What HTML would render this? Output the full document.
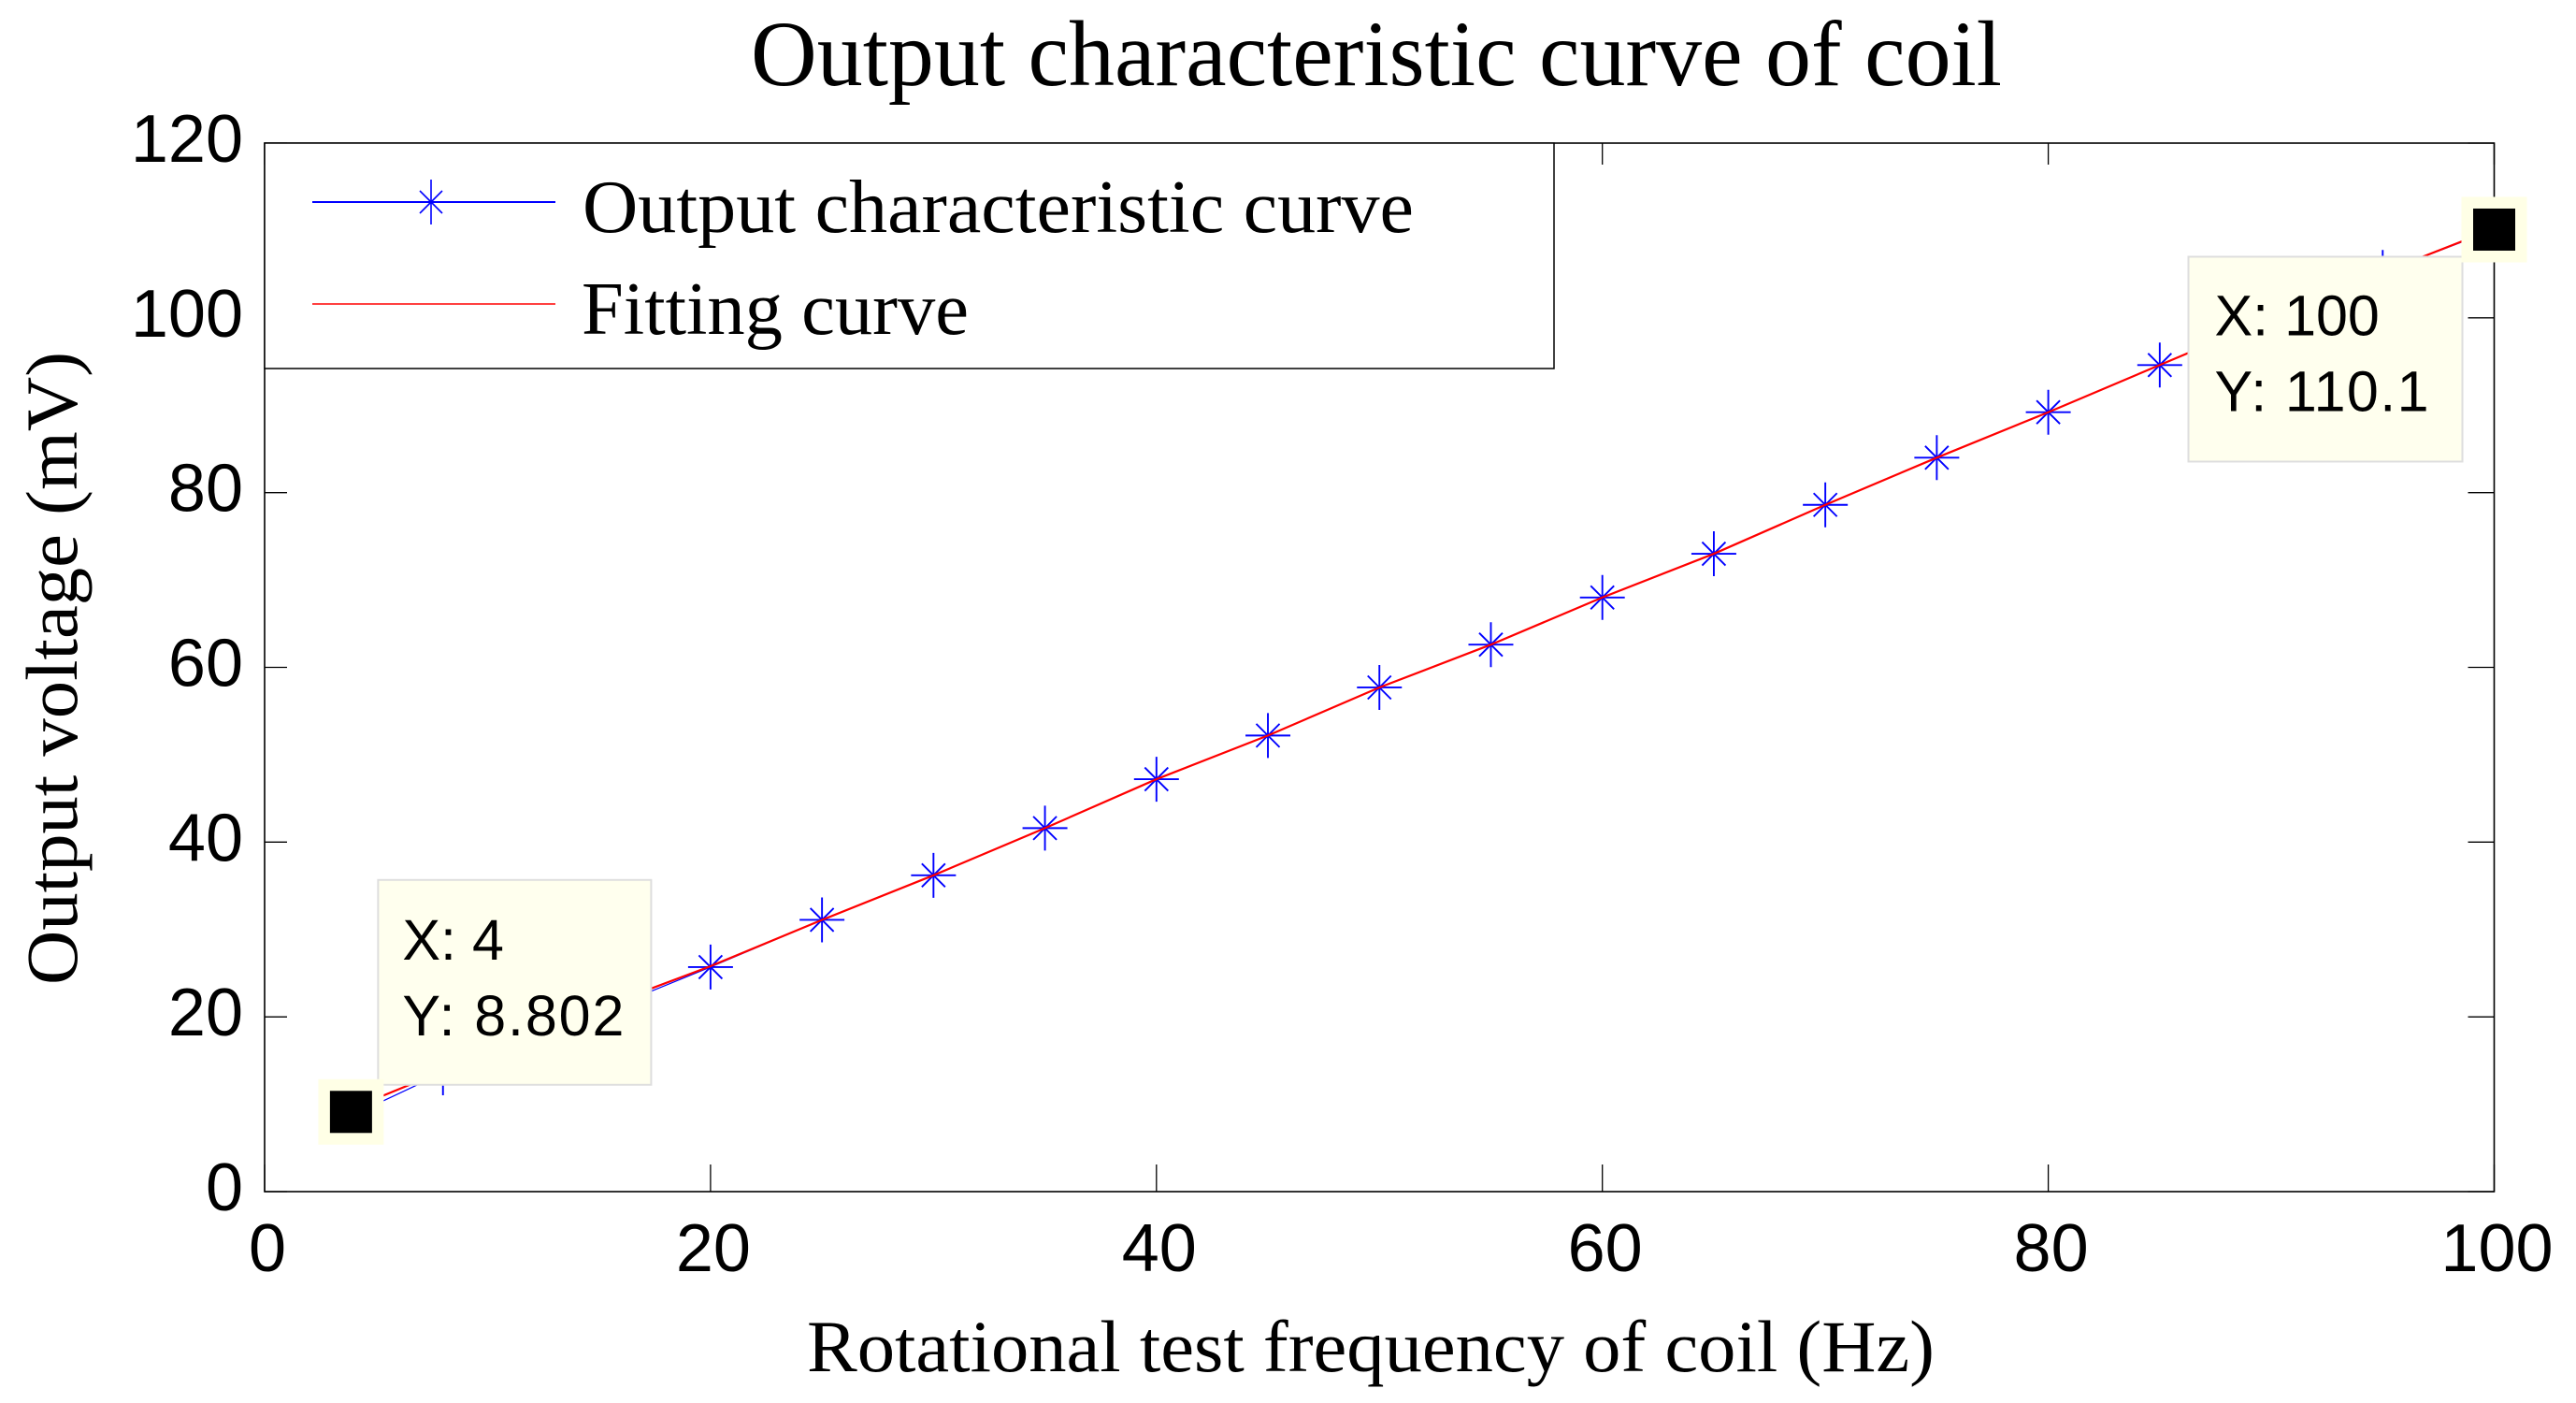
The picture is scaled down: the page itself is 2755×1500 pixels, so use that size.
<!DOCTYPE html>
<html lang="en">
<head>
<meta charset="utf-8">
<title>Output characteristic curve of coil</title>
<style>
html,body{margin:0;padding:0;background:#fff;width:2755px;height:1500px;overflow:hidden}
svg{display:block}
.sans{font-family:"Liberation Sans",Arial,sans-serif;fill:#000}
.serif{font-family:"Liberation Serif","Times New Roman",serif;fill:#000}
</style>
</head>
<body>
<svg id="chart" xmlns="http://www.w3.org/2000/svg" width="2755" height="1500" viewBox="0 0 2755 1500">
  <rect x="0" y="0" width="2755" height="1500" fill="#fff"/>
  <text class="serif" x="803" y="91" font-size="100" textLength="1338" lengthAdjust="spacingAndGlyphs">Output characteristic curve of coil</text>
  <text class="serif" x="863" y="1466" font-size="78" textLength="1206" lengthAdjust="spacingAndGlyphs">Rotational test frequency of coil (Hz)</text>
  <text class="serif" transform="translate(82 1053) rotate(-90)" font-size="78" textLength="677" lengthAdjust="spacingAndGlyphs">Output voltage (mV)</text>
  <g id="axes"></g>
  <g id="series"></g>
  <g>
    <rect x="283" y="153" width="1379" height="241" fill="#fff" stroke="#000" stroke-width="1.5"/>
    <line x1="334" y1="216" x2="594" y2="216" stroke="#0000ff" stroke-width="2"/>
    <g stroke="#0000ff" stroke-width="1.6">
      <line x1="461" y1="192" x2="461" y2="240"/>
      <line x1="449" y1="204" x2="473" y2="228"/>
      <line x1="449" y1="228" x2="473" y2="204"/>
    </g>
    <text class="serif" x="623" y="248" font-size="80" textLength="889" lengthAdjust="spacingAndGlyphs">Output characteristic curve</text>
    <line x1="334" y1="325" x2="594" y2="325" stroke="#ff0000" stroke-width="1.4"/>
    <text class="serif" x="622" y="357" font-size="80" textLength="414" lengthAdjust="spacingAndGlyphs">Fitting curve</text>
  </g>
  <g id="tips"></g>
</svg>
<script>
const xTicks = [0, 20, 40, 60, 80, 100];
const yTicks = [0, 20, 40, 60, 80, 100, 120];
const frequencies = [4, 8, 10, 15, 20, 25, 30, 35, 40, 45, 50, 55, 60, 65, 70, 75, 80, 85, 90, 95, 100];
const outputVoltage = [8.802, 13.6, 15.5, 20.5, 25.7, 31.1, 36.2, 41.6, 47.2, 52.2, 57.7, 62.6, 68, 73, 78.6, 84, 89.2, 94.6, 100, 105.2, 110.1];
const fittingVoltage = [9.6, 13.8, 15.9, 21, 25.8, 31.1, 36.2, 41.6, 47.2, 52.2, 57.7, 62.6, 68, 73, 78.6, 84, 89.2, 94.6, 100, 105.2, 110.2];
const tipPoints = [4, 100];
const tipValues = [8.802, 110.1];
const tipLabels = ["8.802", "110.1"];

const NS = "http://www.w3.org/2000/svg";
const left = 283, right = 2667.5, top_ = 153, bottom = 1274;
const xMax = 100, yMax = 120;
const tipYTextWidths = [233, 225];
function xScale(v) { return left + (v / xMax) * (right - left); }
function yScale(v) { return bottom - (v / yMax) * (bottom - top_); }
function make(tag, attrs, parent) {
  const el = document.createElementNS(NS, tag);
  for (const k in attrs) el.setAttribute(k, attrs[k]);
  parent.appendChild(el);
  return el;
}

const axes = document.getElementById("axes");
const frame = make("rect", { x: left, y: top_, width: right - left, height: bottom - top_, fill: "none", stroke: "#000", "stroke-width": 1.6 }, axes);



xTicks.forEach(function (t) {
  const x = xScale(t);
  const a = make("line", { x1: x, y1: bottom, x2: x, y2: bottom - 29, stroke: "#000", "stroke-width": 1.3 }, axes);
  
  
  const b = make("line", { x1: x, y1: top_, x2: x, y2: top_ + 23, stroke: "#000", "stroke-width": 1.3 }, axes);
  
  
  const label = make("text", { x: x + 3, y: 1359, "text-anchor": "middle", "font-size": 72, class: "sans" }, axes);
  label.textContent = String(t);
  
  
});

yTicks.forEach(function (t) {
  const y = yScale(t);
  const a = make("line", { x1: left, y1: y, x2: left + 24, y2: y, stroke: "#000", "stroke-width": 1.3 }, axes);
  
  
  const b = make("line", { x1: right, y1: y, x2: right - 28, y2: y, stroke: "#000", "stroke-width": 1.3 }, axes);
  
  
  const label = make("text", { x: 260, y: y + 20, "text-anchor": "end", "font-size": 72, class: "sans" }, axes);
  label.textContent = String(t);
  
  
});

const series = document.getElementById("series");
function pointsOf(values) {
  return frequencies.map(function (f, i) { return xScale(f) + "," + yScale(values[i]); }).join(" ");
}
const outLine = make("polyline", { points: pointsOf(outputVoltage), fill: "none", stroke: "#0000ff", "stroke-width": 1.2 }, series);



frequencies.forEach(function (f, i) {
  const cx = xScale(f), cy = yScale(outputVoltage[i]);
  const d = "M" + (cx - 24) + " " + cy + "H" + (cx + 24) +
            "M" + cx + " " + (cy - 24) + "V" + (cy + 24) +
            "M" + (cx - 12.5) + " " + (cy - 12.5) + "L" + (cx + 12.5) + " " + (cy + 12.5) +
            "M" + (cx - 12.5) + " " + (cy + 12.5) + "L" + (cx + 12.5) + " " + (cy - 12.5);
  const m = make("path", { d: d, fill: "none", stroke: "#0000ff", "stroke-width": 1.9 }, series);
  
  
});

const fitLine = make("polyline", { points: pointsOf(fittingVoltage), fill: "none", stroke: "#ff0000", "stroke-width": 2.2 }, series);



const tips = document.getElementById("tips");
const tipBoxes = [
  { w: 292, h: 219, dx: 29, dy: -248, tx: 28, by: 166 },
  { w: 293, h: 219, dx: -327, dy: 29, tx: 30, by: 165 }
];
tipPoints.forEach(function (px, i) {
  const b = tipBoxes[i];
  const cx = xScale(px) - (i === 0 ? 3 : 0);
  const cy = yScale(tipValues[i]) + (i === 0 ? -3 : 0);
  const g = make("g", {}, tips);
  
  
  const bx = make("rect", { x: cx + b.dx, y: cy + b.dy, width: b.w, height: b.h, fill: "#ffffee", stroke: "#dedede", "stroke-width": 2 }, g);
  
  
  const halo = make("rect", { x: cx - 35, y: cy - 35, width: 70, height: 70, fill: "#ffffe6" }, g);
  
  
  const sq = make("rect", { x: cx - 22.5, y: cy - 22.5, width: 45, height: 45, fill: "#000" }, g);
  
  
  const tx = make("text", { x: cx + b.dx + b.tx - 2, y: cy + b.dy + b.by - 81, "font-size": 61, class: "sans" }, g);
  tx.textContent = "X: " + px;
  
  
  const ty = make("text", { x: cx + b.dx + b.tx - 2, y: cy + b.dy + b.by, "font-size": 61, class: "sans", textLength: tipYTextWidths[i] + 4, lengthAdjust: "spacing" }, g);
  ty.textContent = "Y: " + tipLabels[i];
  
  
});
</script>
</body>
</html>
